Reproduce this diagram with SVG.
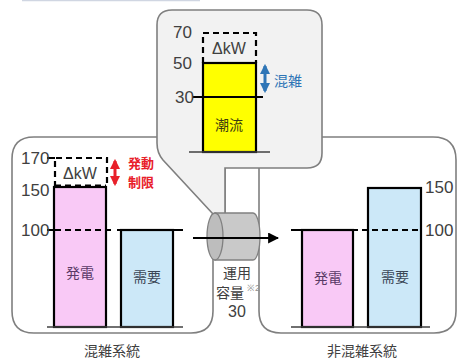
<svg xmlns="http://www.w3.org/2000/svg" width="458" height="362" viewBox="0 0 458 362">
<style>
.panel{fill:#ffffff;stroke:#7f7f7f;stroke-width:1.6}
.callout{fill:#f2f2f2;stroke:#7f7f7f;stroke-width:1.6}
.bar{stroke:#000;stroke-width:2.2}
.ln{stroke:#000;stroke-width:2;fill:none}
.dash{stroke:#000;stroke-width:2.2;stroke-dasharray:6,4;fill:none}
.base{stroke:#404040;stroke-width:1.5}
.num{font-family:"Liberation Sans",Arial,sans-serif;font-size:17px;fill:#404040}
.jp{font-family:"Noto Sans CJK JP","Noto Sans",sans-serif;font-size:14px;fill:#404040}
.red{font-family:"Noto Sans CJK JP","Noto Sans",sans-serif;font-size:13px;font-weight:bold;fill:#e8202a;text-anchor:middle}
.in{font-family:"Noto Sans CJK JP","Noto Sans",sans-serif;font-size:14px;text-anchor:middle}
.dk{font-family:"Liberation Sans",Arial,sans-serif;font-size:16px;fill:#404040;text-anchor:middle}
</style>
<defs>
<marker id="ah" viewBox="0 0 10 10" refX="9" refY="5" markerWidth="5" markerHeight="5" orient="auto" markerUnits="strokeWidth"><path d="M0,0 L10,5 L0,10 Z" fill="#000"/></marker>
<marker id="rh" viewBox="0 0 10 10" refX="8" refY="5" markerWidth="3.5" markerHeight="3.5" orient="auto-start-reverse" markerUnits="strokeWidth"><path d="M0,0 L10,5 L0,10 Z" fill="#e8202a"/></marker>
<marker id="bh" viewBox="0 0 10 10" refX="8" refY="5" markerWidth="3.5" markerHeight="3.5" orient="auto-start-reverse" markerUnits="strokeWidth"><path d="M0,0 L10,5 L0,10 Z" fill="#2e75b6"/></marker>
</defs>
<line x1="22" y1="0.5" x2="200" y2="0.5" stroke="#d0d6e2" stroke-width="1.5"/>

<g id="left-panel">
<path class="panel" d="M34,137 H225 V236 L213,248 V311 Q213,333 191,333 H34 Q12,333 12,311 V159 Q12,137 34,137 Z"/>
<text class="jp" x="112" y="356" text-anchor="middle">混雑系統</text>
</g>
<g id="right-panel">
<path class="panel" d="M281,137 H433 Q456,137 456,160 V311 Q456,333 434,333 H281 Q259,333 259,311 V159 Q259,137 281,137 Z"/>
<text class="jp" x="362" y="356" text-anchor="middle">非混雑系統</text>
</g>
<g id="callout">
<path class="callout" d="M172,10 H307 Q322,10 322,25 V153 Q322,168 307,168 H225 V214 L213,214 L163,160 Q157,153 157,143 V25 Q157,10 172,10 Z"/>
</g>

<g id="link">
<path d="M215,213 H253 A7,23.5 0 0 1 253,260 H215 Z" fill="#c9c9c9" stroke="#808080" stroke-width="1.3"/>
<ellipse cx="215" cy="236.5" rx="8" ry="23.5" fill="#bdbdbd" stroke="#808080" stroke-width="1.3"/>
<text class="jp" x="237" y="278" text-anchor="middle">運用</text>
<text class="jp" x="230" y="298" text-anchor="middle">容量</text>
<text x="247" y="291" font-family="Liberation Sans,Arial,sans-serif" font-size="9" fill="#909090">※2</text>
<text class="dk" x="237" y="317">30</text>
</g>
<g id="connectors">
<line x1="193" y1="238" x2="278" y2="238" stroke="#000" stroke-width="2.2" marker-end="url(#ah)"/>
</g>

<g id="callout-chart">
<rect x="203" y="63" width="53" height="89" fill="#ffff00" class="bar"/>
<path class="dash" d="M203,63 V33 H256 V63"/>
<line class="dash" x1="203" y1="63" x2="256" y2="63"/>
<line class="ln" x1="193" y1="97" x2="263" y2="97"/>
<line class="base" x1="189" y1="152" x2="270" y2="152"/>
<text class="num" x="173" y="38">70</text>
<text class="num" x="173" y="69">50</text>
<text class="num" x="175" y="103">30</text>
<text class="dk" x="229" y="54">ΔkW</text>
<text class="in" x="229" y="130" fill="#3c3c10">潮流</text>
<line x1="265" y1="66" x2="265" y2="91" stroke="#2e75b6" stroke-width="3" marker-start="url(#bh)" marker-end="url(#bh)"/>
<text class="jp" x="274" y="86" style="fill:#2e75b6">混雑</text>
</g>

<g id="left-chart">
<rect x="54" y="187" width="52" height="140" fill="#f9c9f6" class="bar"/>
<rect x="121" y="230" width="52" height="97" fill="#cce8f8" class="bar"/>
<path class="dash" d="M55,187 V158 H107 V187"/>
<line class="dash" x1="55" y1="185.5" x2="106" y2="185.5"/>
<line class="ln" x1="47" y1="158" x2="55" y2="158" stroke-width="1.5"/>
<line class="ln" x1="47" y1="230" x2="55" y2="230" stroke-width="1.5"/>
<line class="dash" x1="55" y1="230" x2="113" y2="230"/>
<line class="ln" x1="117" y1="230" x2="183" y2="230"/>
<line class="base" x1="47" y1="327" x2="183" y2="327"/>
<text class="num" x="21" y="164">170</text>
<text class="num" x="21" y="196">150</text>
<text class="num" x="21" y="236">100</text>
<text class="dk" x="80" y="179">ΔkW</text>
<text class="in" x="80" y="278" fill="#5a3a66">発電</text>
<text class="in" x="147" y="282" fill="#3a4656">需要</text>
<line x1="115" y1="161" x2="115" y2="184" stroke="#e8202a" stroke-width="3" marker-start="url(#rh)" marker-end="url(#rh)"/>
<text class="red" x="141" y="168">発動</text>
<text class="red" x="141" y="187">制限</text>
</g>

<g id="right-chart">
<rect x="302" y="230" width="51" height="97" fill="#f9c9f6" class="bar"/>
<rect x="368" y="188" width="53" height="139" fill="#cce8f8" class="bar"/>
<line class="ln" x1="291" y1="230" x2="358" y2="230"/>
<line class="dash" x1="362" y1="230" x2="418" y2="230"/>
<line class="base" x1="291" y1="327" x2="430" y2="327"/>
<text class="num" x="425" y="193">150</text>
<text class="num" x="425" y="236">100</text>
<text class="in" x="328" y="283" fill="#5a3a66">発電</text>
<text class="in" x="395" y="282" fill="#3a4656">需要</text>
</g>
</svg>
